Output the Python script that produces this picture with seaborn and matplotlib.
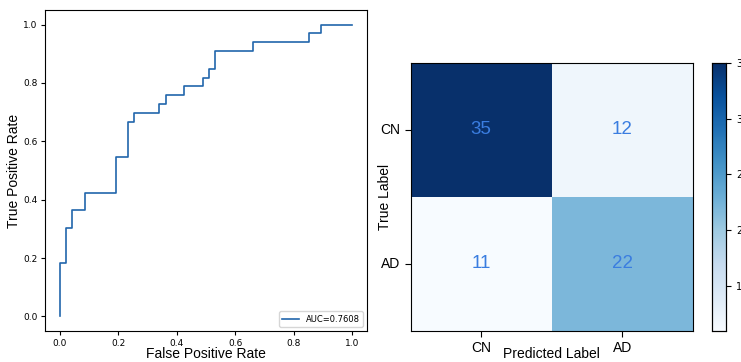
import numpy as np
import pandas as pd
import matplotlib
matplotlib.use("Agg")
import matplotlib.pyplot as plt
import seaborn as sns

# ROC curve points (step curve)
fpr = [0.0, 0.0, 0.0213, 0.0213, 0.0426, 0.0426, 0.0851, 0.0851, 0.1915, 0.1915,
       0.2340, 0.2340, 0.2553, 0.2553, 0.3404, 0.3404, 0.3617, 0.3617, 0.4255, 0.4255,
       0.4894, 0.4894, 0.5106, 0.5106, 0.5319, 0.5319, 0.6596, 0.6596, 0.8511, 0.8511,
       0.8936, 0.8936, 1.0]
tpr = [0.0, 0.1818, 0.1818, 0.3030, 0.3030, 0.3636, 0.3636, 0.4242, 0.4242, 0.5455,
       0.5455, 0.6667, 0.6667, 0.6970, 0.6970, 0.7273, 0.7273, 0.7576, 0.7576, 0.7879,
       0.7879, 0.8182, 0.8182, 0.8485, 0.8485, 0.9091, 0.9091, 0.9394, 0.9394, 0.9697,
       0.9697, 1.0, 1.0]
auc_value = 0.7608

# confusion matrix
class_names = ["CN", "AD"]
cm = [[35, 12],
      [11, 22]]
cbar_ticks = [15, 20, 25, 30, 35]

label_font = "Liberation Sans"

fig = plt.figure(figsize=(7.41, 3.62), dpi=100)

# ROC
ax1 = fig.add_axes([0.0607, 0.0856, 0.4346, 0.8868])
roc = pd.DataFrame({"fpr": fpr, "tpr": tpr})
sns.lineplot(data=roc, x="fpr", y="tpr", sort=False, estimator=None,
             color="#2166ac", linewidth=1.2, label=f"AUC={auc_value:.4f}", ax=ax1)
ax1.set_xlabel("False Positive Rate", fontsize=10, family=label_font)
ax1.set_ylabel("True Positive Rate", fontsize=10, family=label_font)
ax1.xaxis.set_label_coords(0.5, -0.05)
ax1.yaxis.set_label_coords(-0.075, 0.5)
ax1.set_xticks([0.0, 0.2, 0.4, 0.6, 0.8, 1.0])
ax1.set_yticks([0.0, 0.2, 0.4, 0.6, 0.8, 1.0])
ax1.tick_params(labelsize=6.5, pad=2.5, length=3)
ax1.set_xlim(-0.05, 1.05)
ax1.set_ylim(-0.05, 1.05)
ax1.legend(loc="lower right", fontsize=6)

# confusion matrix heatmap
ax2 = fig.add_axes([0.5543, 0.0856, 0.3806, 0.7412])
cax = fig.add_axes([0.9609, 0.0856, 0.019, 0.7412])
cm_df = pd.DataFrame(cm, index=class_names, columns=class_names)
sns.heatmap(cm_df, cmap="Blues", annot=True, fmt="d", ax=ax2, cbar_ax=cax,
            annot_kws={"color": "#3a7de0", "fontsize": 13.5, "family": label_font},
            cbar_kws={"ticks": cbar_ticks})
ax2.set_xlabel("Predicted Label", fontsize=10, family=label_font)
ax2.set_ylabel("True Label", fontsize=10, family=label_font)
ax2.xaxis.set_label_coords(0.5, -0.058)
ax2.yaxis.set_label_coords(-0.066, 0.5)
ax2.tick_params(length=4)
ax2.set_xticklabels(class_names, fontsize=10, family=label_font)
ax2.set_yticklabels(class_names, rotation=0, fontsize=10, family=label_font)
for s in ax2.spines.values():
    s.set_visible(True)
    s.set_linewidth(0.8)
cax.tick_params(labelsize=7)
for s in cax.spines.values():
    s.set_visible(True)
    s.set_linewidth(0.8)

fig.savefig("out.png", dpi=100)
